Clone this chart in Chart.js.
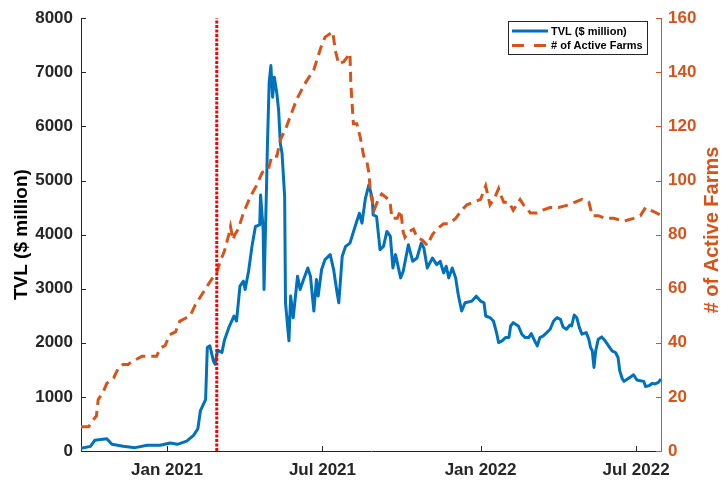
<!DOCTYPE html>
<html>
<head>
<meta charset="utf-8">
<script src="https://cdn.jsdelivr.net/npm/chart.js@4.4.1/dist/chart.umd.min.js"></script>
<style>
  body { margin: 0; background: #fff; }
</style>
</head>
<body>
<canvas id="tvlChart" width="722" height="481"></canvas>
<script>
// x values are days counted from EPOCH
const EPOCH = '2020-09-23';
const LAST_DAY = 675;

const tickDates = ['2021-01-01', '2021-07-01', '2022-01-01', '2022-07-01'];
const tickLabels = ['Jan 2021', 'Jul 2021', 'Jan 2022', 'Jul 2022'];

// vertical marker
const eventDate = '2021-02-28';

// TVL in $ million
const tvlDays = [
    0, 11, 16, 30, 36, 49, 63, 77, 92, 104,
    112, 123, 131, 136, 139, 145, 147, 150, 154, 156,
    159, 164, 167, 172, 178, 181, 185, 189, 191, 195,
    199, 203, 208, 209, 212, 213, 216, 217, 219, 221,
    223, 225, 228, 230, 232, 234, 237, 238, 242, 244,
    247, 252, 255, 259, 264, 267, 271, 274, 276, 280,
    284, 290, 294, 298, 300, 304, 308, 313, 319, 324,
    327, 331, 335, 339, 340, 344, 348, 352, 356, 360,
    363, 366, 372, 375, 381, 386, 391, 396, 399, 403,
    409, 414, 418, 422, 425, 428, 432, 436, 439, 443,
    447, 455, 460, 465, 469, 471, 476, 480, 484, 486,
    490, 494, 498, 500, 503, 509, 513, 517, 521, 524,
    528, 531, 534, 538, 542, 546, 550, 554, 558, 561,
    565, 569, 571, 574, 577, 580, 583, 588, 591, 593,
    595, 597, 599, 602, 606, 610, 614, 618, 622, 625,
    627, 630, 632, 636, 639, 643, 647, 651, 655, 657,
    661, 665, 668, 672, 675
];
const tvlValues = [
    50, 86, 197, 228, 123, 86, 62, 105, 105, 147,
    123, 184, 289, 412, 748, 951, 1912, 1944, 1668, 1607,
    1865, 1821, 2050, 2280, 2495, 2403, 3047, 3139, 2986, 3323,
    3783, 4150, 4181, 4733, 4089, 2986, 4946, 5682, 6817, 7124,
    6541, 6909, 6602, 6296, 5682, 5498, 4702, 2740, 2036, 2863,
    2464, 3231, 2986, 3170, 3384, 3231, 2587, 3170, 2863, 3354,
    3538, 3630, 3354, 2924, 2740, 3599, 3783, 3843, 4150, 4395,
    4212, 4671, 4917, 4671, 4366, 4334, 3722, 3783, 4059, 3967,
    3384, 3630, 3200, 3323, 3814, 3507, 3568, 3843, 3752, 3384,
    3568, 3446, 3507, 3292, 3415, 3200, 3384, 3200, 2894, 2587,
    2740, 2771, 2863, 2771, 2740, 2495, 2464, 2403, 2159, 2005,
    2036, 2096, 2096, 2311, 2372, 2311, 2159, 2096, 2096, 2170,
    2036, 1944, 2096, 2128, 2188, 2250, 2403, 2464, 2434, 2293,
    2250, 2330, 2311, 2514, 2464, 2280, 2159, 2188, 2067, 1912,
    1852, 1545, 1852, 2067, 2109, 2036, 1944, 1852, 1821, 1729,
    1484, 1331, 1287, 1331, 1361, 1410, 1313, 1300, 1287, 1190,
    1208, 1250, 1239, 1269, 1331
];

// number of active farms
const farmDays = [
    0, 9, 13, 18, 20, 26, 30, 38, 44, 49,
    55, 59, 65, 71, 81, 88, 92, 98, 103, 110,
    115, 121, 127, 133, 139, 145, 151, 158, 162, 167,
    172, 174, 177, 179, 183, 189, 197, 204, 211, 218,
    222, 228, 232, 238, 244, 251, 261, 271, 279, 284,
    293, 296, 300, 306, 313, 314, 317, 321, 325, 329,
    332, 335, 337, 341, 346, 350, 358, 360, 362, 368,
    372, 375, 377, 381, 387, 391, 397, 403, 409, 414,
    422, 428, 436, 443, 449, 457, 465, 471, 476, 482,
    486, 488, 492, 498, 503, 511, 515, 523, 531, 537,
    546, 556, 568, 575, 583, 591, 595, 602, 610, 620,
    632, 643, 651, 657, 663, 670, 675
];
const farmCounts = [
    9, 9, 11, 13, 19, 22, 25, 27, 31, 32,
    32, 33, 34, 35, 35, 35, 38, 39, 43, 44,
    48, 49, 50, 54, 57, 60, 63, 66, 70, 74,
    80, 83, 78, 80, 82, 88, 94, 98, 103, 104,
    109, 109, 115, 119, 124, 130, 136, 141, 149, 153,
    155, 148, 143, 144, 147, 136, 121, 121, 116, 109,
    108, 103, 95, 89, 93, 95, 93, 91, 86, 86,
    89, 81, 79, 81, 82, 79, 78, 76, 80, 82,
    84, 84, 86, 89, 91, 92, 93, 98, 91, 94,
    97, 95, 92, 92, 89, 93, 91, 88, 88, 89,
    90, 90, 91, 92, 93, 92, 87, 87, 86, 86,
    85, 86, 87, 90, 89, 88, 87
];

const BLUE = '#0072BD';
const ORANGE = '#D95319';
const AXIS_GREY = '#262626';
const FONT = '"Liberation Sans", Arial, sans-serif';

function dayOf(dateStr) {
    return (Date.parse(dateStr) - Date.parse(EPOCH)) / 86400000;
}

const tickDays = tickDates.map(dayOf);
const eventDay = dayOf(eventDate);

Chart.defaults.font.family = FONT;

// inward tick marks, right-hand title and the legend box
const axisDecor = {
    id: 'axisDecor',
    afterDraw(chart) {
        const { ctx, chartArea, scales } = chart;
        ctx.save();
        ctx.lineWidth = 1;

        ctx.strokeStyle = AXIS_GREY;
        ctx.beginPath();
        scales.y.ticks.forEach(t => {
            const py = Math.round(scales.y.getPixelForValue(t.value)) + 0.5;
            ctx.moveTo(chartArea.left, py);
            ctx.lineTo(chartArea.left + 5, py);
        });
        scales.x.ticks.forEach(t => {
            const px = Math.round(scales.x.getPixelForValue(t.value)) + 0.5;
            ctx.moveTo(px, chartArea.bottom);
            ctx.lineTo(px, chartArea.bottom - 5);
        });
        ctx.stroke();

        ctx.strokeStyle = ORANGE;
        ctx.beginPath();
        scales.y1.ticks.forEach(t => {
            const py = Math.round(scales.y1.getPixelForValue(t.value)) + 0.5;
            ctx.moveTo(chartArea.right, py);
            ctx.lineTo(chartArea.right - 5, py);
        });
        ctx.stroke();

        // right axis title reads bottom to top
        ctx.save();
        ctx.translate(712, 230);
        ctx.rotate(-Math.PI / 2);
        ctx.fillStyle = ORANGE;
        ctx.font = 'bold 20px ' + FONT;
        ctx.textAlign = 'center';
        ctx.textBaseline = 'middle';
        ctx.fillText('# of Active Farms', 0, 0);
        ctx.restore();

        // legend
        const lx = 508.5, ly = 21.5, lw = 139, lh = 33;
        ctx.fillStyle = '#fff';
        ctx.fillRect(lx, ly, lw, lh);
        ctx.strokeStyle = AXIS_GREY;
        ctx.lineWidth = 1;
        ctx.strokeRect(lx, ly, lw, lh);

        ctx.lineWidth = 3;
        ctx.strokeStyle = BLUE;
        ctx.beginPath();
        ctx.moveTo(512, 31);
        ctx.lineTo(548, 31);
        ctx.stroke();

        ctx.strokeStyle = ORANGE;
        ctx.setLineDash([12, 10]);
        ctx.beginPath();
        ctx.moveTo(512, 45.5);
        ctx.lineTo(548, 45.5);
        ctx.stroke();
        ctx.setLineDash([]);

        ctx.fillStyle = '#000';
        ctx.font = 'bold 11px ' + FONT;
        ctx.textAlign = 'left';
        ctx.textBaseline = 'middle';
        ctx.fillText('TVL ($ million)', 551, 31.5);
        ctx.fillText('# of Active Farms', 551, 46);

        ctx.restore();
    }
};

const ctx = document.getElementById('tvlChart').getContext('2d');
new Chart(ctx, {
    type: 'line',
    data: {
        datasets: [
            {
                label: 'event',
                data: [{ x: eventDay, y: 0 }, { x: eventDay, y: 8000 }],
                yAxisID: 'y',
                borderColor: '#FF0000',
                borderWidth: 3,
                borderDash: [3, 1.5],
                pointRadius: 0
            },
            {
                label: '# of Active Farms',
                data: farmDays.map((d, i) => ({ x: d, y: farmCounts[i] })),
                yAxisID: 'y1',
                borderColor: ORANGE,
                borderWidth: 3,
                borderDash: [10, 6],
                pointRadius: 0,
                tension: 0
            },
            {
                label: 'TVL ($ million)',
                data: tvlDays.map((d, i) => ({ x: d, y: tvlValues[i] })),
                yAxisID: 'y',
                borderColor: BLUE,
                borderWidth: 3,
                borderJoinStyle: 'round',
                pointRadius: 0,
                tension: 0
            }
        ]
    },
    options: {
        responsive: false,
        animation: false,
        layout: { padding: { top: 16, left: 0, right: 0, bottom: 0 } },
        plugins: {
            legend: { display: false },
            tooltip: { enabled: false }
        },
        scales: {
            x: {
                type: 'linear',
                min: 0,
                max: LAST_DAY,
                grid: { display: false, drawTicks: false },
                border: { color: AXIS_GREY, width: 1 },
                afterBuildTicks: scale => {
                    scale.ticks = tickDays.map(v => ({ value: v }));
                },
                ticks: {
                    color: AXIS_GREY,
                    font: { size: 17, weight: 'bold' },
                    padding: 9,
                    maxRotation: 0,
                    callback: value => tickLabels[tickDays.indexOf(value)]
                },
                afterFit: scale => { scale.height = 30; }
            },
            y: {
                position: 'left',
                min: 0,
                max: 8000,
                grid: { display: false, drawTicks: false },
                border: { color: AXIS_GREY, width: 1 },
                ticks: {
                    stepSize: 1000,
                    color: AXIS_GREY,
                    font: { size: 17, weight: 'bold' },
                    padding: 8,
                    callback: value => String(value)
                },
                title: {
                    display: true,
                    text: 'TVL ($ million)',
                    color: '#000',
                    font: { size: 19, weight: 'bold' },
                    padding: { top: 10, bottom: 0 }
                },
                afterFit: scale => { scale.width = 81; }
            },
            y1: {
                position: 'right',
                min: 0,
                max: 160,
                grid: { display: false, drawTicks: false },
                border: { color: ORANGE, width: 1 },
                ticks: {
                    stepSize: 20,
                    color: ORANGE,
                    font: { size: 17, weight: 'bold' },
                    padding: 7,
                    callback: value => String(value)
                },
                afterFit: scale => { scale.width = 61; }
            }
        }
    },
    plugins: [axisDecor]
});
</script>
</body>
</html>
